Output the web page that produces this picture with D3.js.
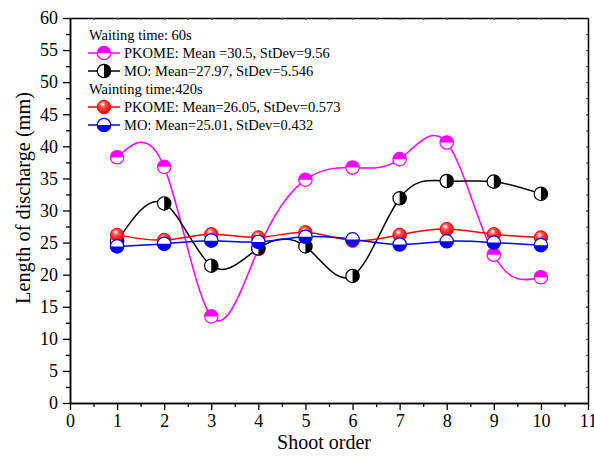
<!DOCTYPE html>
<html>
<head>
<meta charset="utf-8">
<script src="https://cdn.jsdelivr.net/npm/d3@7"></script>
<style>
  body { margin: 0; background: #fff; }
  svg text { font-family: "Liberation Serif", "Times New Roman", Times, serif; }
</style>
</head>
<body>
<svg id="chart" width="594" height="456"></svg>
<script>
var shootOrder = [1, 2, 3, 4, 5, 6, 7, 8, 9, 10];
var pkome60 = [38.3, 36.8, 13.5, 24.0, 34.8, 36.7, 38.0, 40.6, 23.1, 19.6];
var mo60 = [25.2, 31.1, 21.4, 24.1, 24.4, 19.8, 31.9, 34.6, 34.5, 32.6];
var pkome420 = [26.2, 25.4, 26.3, 25.8, 26.6, 25.3, 26.2, 27.1, 26.3, 25.8];
var mo420 = [24.4, 24.8, 25.3, 25.1, 25.9, 25.5, 24.7, 25.2, 25.0, 24.6];
var xTicks = d3.range(0, 12);
var yTicks = d3.range(0, 65, 5);

var series = [
  { name: "PKOME: Mean =30.5, StDev=9.56", values: pkome60, color: "#ff00ff", half: "top" },
  { name: "MO: Mean=27.97, StDev=5.546", values: mo60, color: "#000000", half: "right" },
  { name: "PKOME: Mean=26.05, StDev=0.573", values: pkome420, color: "#ff0000", half: "ball" },
  { name: "MO: Mean=25.01, StDev=0.432", values: mo420, color: "#0000ff", half: "bottom" }
];

var svg = d3.select("#chart");
var margin = { left: 70, top: 18, right: 6, bottom: 53 };
var width = 594 - margin.left - margin.right;
var height = 456 - margin.top - margin.bottom;

var x = d3.scaleLinear().domain([0, 11]).range([0, 518]);
var y = d3.scaleLinear().domain([0, 60]).range([height, 0]);

var defs = svg.append("defs");
var grad = defs.append("radialGradient")
  .attr("id", "redBall")
  .attr("cx", "0.4").attr("cy", "0.35").attr("r", "0.65")
  .attr("fx", "0.4").attr("fy", "0.3");
grad.append("stop").attr("offset", "0%").attr("stop-color", "#ffffff");
grad.append("stop").attr("offset", "35%").attr("stop-color", "#ff5050");
grad.append("stop").attr("offset", "100%").attr("stop-color", "#e00000");

var g = svg.append("g").attr("transform", "translate(" + margin.left + "," + margin.top + ")");

var R = 6.7;

function drawMarker(sel, s) {
  var arc = d3.arc().innerRadius(0).outerRadius(R);
  if (s.half === "ball") {
    sel.append("circle").attr("r", R)
      .attr("fill", "url(#redBall)")
      .attr("stroke", s.color).attr("stroke-width", 1);
    return;
  }
  sel.append("circle").attr("r", R).attr("fill", "#fff");
  var start = { top: -Math.PI / 2, right: 0, bottom: Math.PI / 2 }[s.half];
  sel.append("path")
    .attr("d", arc({ startAngle: start, endAngle: start + Math.PI }))
    .attr("fill", s.color);
  sel.append("circle").attr("r", R)
    .attr("fill", "none")
    .attr("stroke", s.color).attr("stroke-width", 1.2);
}

// lines
var line = d3.line()
  .x(function(d, i) { return x(shootOrder[i]); })
  .y(function(d) { return y(d); })
  .curve(d3.curveNatural);

series.forEach(function(s) {
  g.append("path")
    .datum(s.values)
    .attr("d", line)
    .attr("fill", "none")
    .attr("stroke", s.color)
    .attr("stroke-width", 1.5);
});

// markers
series.forEach(function(s) {
  s.values.forEach(function(v, i) {
    var m = g.append("g").attr("transform", "translate(" + x(shootOrder[i]) + "," + y(v) + ")");
    drawMarker(m, s);
  });
});

// axes
var xAxis = g.append("g").attr("transform", "translate(0," + height + ")")
  .call(d3.axisBottom(x).tickValues(xTicks).tickFormat(d3.format("d")).tickSize(7).tickSizeOuter(0));
var xMinor = g.append("g").attr("transform", "translate(0," + height + ")")
  .call(d3.axisBottom(x).tickValues(d3.range(0.5, 11, 1)).tickFormat("").tickSize(4).tickSizeOuter(0));
var yAxis = g.append("g")
  .call(d3.axisLeft(y).tickValues(yTicks).tickSize(7).tickSizeOuter(0));
var yMinor = g.append("g")
  .call(d3.axisLeft(y).tickValues(d3.range(2.5, 60, 5)).tickFormat("").tickSize(4).tickSizeOuter(0));
var xTop = g.append("g")
  .call(d3.axisBottom(x).tickValues(d3.range(0.5, 11, 0.5)).tickFormat("").tickSize(2).tickSizeOuter(0));
var yRight = g.append("g").attr("transform", "translate(" + x(11) + ",0)")
  .call(d3.axisLeft(y).tickValues(d3.range(2.5, 60, 2.5)).tickFormat("").tickSize(2).tickSizeOuter(0));

[xAxis, xMinor, yAxis, yMinor, xTop, yRight].forEach(function(a) {
  a.attr("font-family", null);
  a.select(".domain").attr("stroke", "#000").attr("stroke-width", 1.5);
  a.selectAll(".tick line").attr("stroke", "#000").attr("stroke-width", 1.3);
});
xTop.selectAll(".tick line").attr("stroke", "#555");
yRight.selectAll(".tick line").attr("stroke", "#555");

xAxis.selectAll("text")
  .attr("font-size", 18)
  .attr("fill", "#000")
  .attr("y", 8)
  .attr("dy", "0.9em");
yAxis.selectAll("text")
  .attr("font-size", 18)
  .attr("fill", "#000")
  .attr("x", -12);

// axis titles
svg.append("text")
  .attr("x", 324)
  .attr("y", 449)
  .attr("text-anchor", "middle")
  .attr("font-size", 20)
  .text("Shoot order");
svg.append("text")
  .attr("transform", "translate(30,198) rotate(-90)")
  .attr("text-anchor", "middle")
  .attr("font-size", 20.3)
  .text("Length of discharge (mm)");

// legend
var legendRows = [
  { title: "Waiting time: 60s" },
  { s: series[0] },
  { s: series[1] },
  { title: "Wainting time:420s" },
  { s: series[2] },
  { s: series[3] }
];
var legend = svg.append("g");
legendRows.forEach(function(row, i) {
  var cy = 35 + i * 18;
  if (row.title) {
    legend.append("text").attr("x", 89).attr("y", cy + 5)
      .attr("font-size", 14.5).text(row.title);
  } else {
    legend.append("line").attr("x1", 88).attr("x2", 120).attr("y1", cy).attr("y2", cy)
      .attr("stroke", row.s.color).attr("stroke-width", 1.5);
    var m = legend.append("g").attr("transform", "translate(104," + cy + ")");
    drawMarker(m, row.s);
    legend.append("text").attr("x", 124).attr("y", cy + 5)
      .attr("font-size", 14.5).text(row.s.name);
  }
});
</script>
</body>
</html>
